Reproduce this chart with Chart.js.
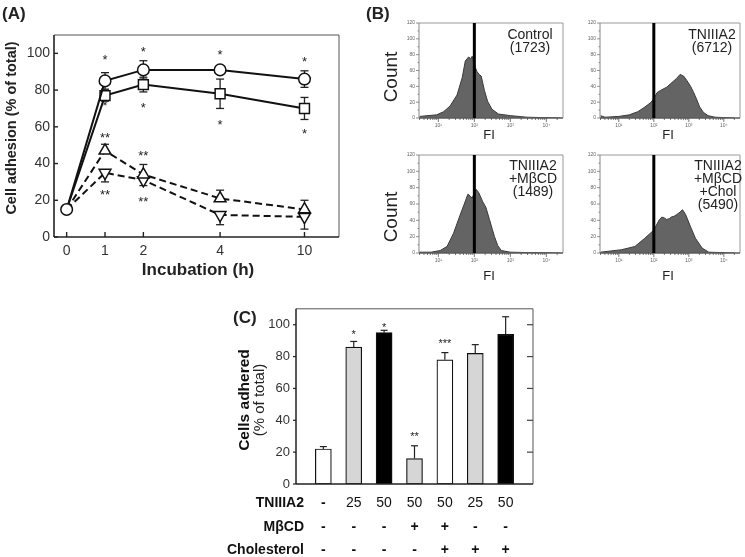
<!DOCTYPE html>
<html>
<head>
<meta charset="utf-8">
<script src="https://cdn.jsdelivr.net/npm/chart.js@4.4.1/dist/chart.umd.min.js"></script>
<style>
  body { margin: 0; background: #fff; width: 745px; height: 557px; position: relative; overflow: hidden; }
  canvas { position: absolute; }
</style>
</head>
<body>
<canvas id="chartA" width="350" height="290" style="left:0;top:0"></canvas>
<canvas id="histB1" width="210" height="145" style="left:360px;top:0"></canvas>
<canvas id="histB2" width="165" height="145" style="left:580px;top:0"></canvas>
<canvas id="histB3" width="210" height="140" style="left:360px;top:145px"></canvas>
<canvas id="histB4" width="165" height="140" style="left:580px;top:145px"></canvas>
<canvas id="chartC" width="355" height="262" style="left:190px;top:295px"></canvas>
<script>
// ---- panel A: adhesion over time ----
const hoursLabels = ['0', '1', '2', '4', '10'];
const hoursPos = [0, 1, 2, 4, 6.2];   // 10 h sits closer than a linear axis would put it
const adhCircle = [15, 85, 91, 91, 86];
const adhCircleErr = [0, 4.5, 5, 1, 4.5];
const adhSquare = [15, 77, 83, 78, 70];
const adhSquareErr = [0, 3, 4, 8, 6];
const adhUp = [15, 47, 34, 21, 15];
const adhUpErr = [0, 3.5, 5.5, 4.5, 5];
const adhDown = [15, 35, 31, 12, 11];
const adhDownErr = [0, 5, 3, 5.3, 6.7];
const starsAIdx = [1, 1, 1, 1, 2, 2, 2, 2, 3, 3, 4, 4];
const starsAY = [97, 72, 55, 24, 101.5, 71, 45, 20, 100, 62, 96, 57];
const starsAText = ['*', '*', '**', '**', '*', '*', '**', '**', '*', '*', '*', '*'];

// ---- panel B: flow cytometry histograms (FI on log axis, count) ----
const fiControl = [3, 9, 14, 21, 33, 46, 56, 69, 80, 87, 100, 117, 135, 155, 190, 234, 309, 468, 1000, 2880, 25000];
const cntControl = [2, 4, 8, 15, 29, 51, 72, 77, 75, 78, 67, 59, 55, 53, 35, 21, 11, 5, 3, 1, 0];
const fiTN = [3, 4, 10, 20, 35, 52, 79, 100, 123, 158, 234, 355, 447, 562, 708, 891, 1122, 1349, 1660, 2042, 2630, 3548, 5623, 20000];
const cntTN = [3, 1, 2, 4, 8, 13, 19, 24, 32, 35, 39, 46, 50, 55, 53, 47, 40, 33, 24, 14, 7, 3, 1, 0];
const fiMbcd = [3, 6.3, 11.2, 17.4, 26.3, 39.8, 52.5, 66.1, 75.9, 87.1, 100, 112, 132, 170, 209, 263, 316, 363, 447, 562, 1000, 3162, 25000];
const cntMbcd = [1, 1, 3, 8, 24, 46, 60, 72, 70, 67, 74, 78, 74, 63, 56, 41, 29, 20, 9, 3, 1, 0.5, 0];
const fiChol = [3, 12, 28.8, 55, 100, 144.5, 170, 199.5, 234, 275, 316, 380, 447, 525, 661, 813, 1122, 1549, 2399, 3715, 20000];
const cntChol = [1, 4, 8, 18, 28, 41, 44, 43, 41, 42, 44, 45, 47, 49, 53, 47, 32, 18, 6, 1, 0];
const markerFI = 100;
const countTicks = [0, 20, 40, 60, 80, 100, 120];

// ---- panel C: bars + condition table ----
const adhered = [22, 86, 95, 16, 78, 82, 94];
const adheredErr = [1.5, 3.5, 1.5, 8, 4.5, 5.5, 11];
const starsCIdx = [1, 2, 3, 4];
const starsCY = [95, 99, 31, 89];
const starsCText = ['*', '*', '**', '***'];
const rowLabels = ['TNIIIA2', 'MβCD', 'Cholesterol'];
const rowTN = ['-', '25', '50', '50', '50', '25', '50'];
const rowMbcd = ['-', '-', '-', '+', '+', '-', '-'];
const rowChol = ['-', '-', '-', '-', '+', '+', '+'];
const barFill = ['#ffffff', '#d6d6d6', '#000000', '#d6d6d6', '#ffffff', '#d6d6d6', '#000000'];

const FONT = "'Liberation Sans', Arial, sans-serif";
Chart.defaults.font.family = FONT;
Chart.defaults.color = '#333';
Chart.defaults.animation = false;

// pin the plot area to exact pixels inside a canvas of size W x H
function area(W, H, l, t, r, b) {
  return {
    padding: { left: 0, top: t, right: W - r, bottom: 0 },
    fitY: s => { s.width = l; },
    fitX: s => { s.height = H - b; }
  };
}

function txt(ctx, s, x, y, font, align, color) {
  ctx.save();
  ctx.font = font;
  ctx.textAlign = align || 'center';
  ctx.textBaseline = 'middle';
  ctx.fillStyle = color || '#222';
  ctx.fillText(s, x, y);
  ctx.restore();
}

function vtxt(ctx, s, x, y, font, color) {
  ctx.save();
  ctx.translate(x, y);
  ctx.rotate(-Math.PI / 2);
  txt(ctx, s, 0, 0, font, 'center', color);
  ctx.restore();
}

function line(ctx, x1, y1, x2, y2, w, color) {
  ctx.save();
  ctx.beginPath();
  ctx.moveTo(x1, y1);
  ctx.lineTo(x2, y2);
  ctx.lineWidth = w;
  ctx.strokeStyle = color || '#222';
  ctx.stroke();
  ctx.restore();
}

function frame(ctx, a, sideColor, axisColor, axisW) {
  line(ctx, a.left, a.top, a.right, a.top, 1, sideColor);
  line(ctx, a.right, a.top, a.right, a.bottom, 1, sideColor);
  line(ctx, a.left, a.top, a.left, a.bottom, axisW, axisColor);
  line(ctx, a.left, a.bottom, a.right, a.bottom, axisW, axisColor);
}

// ================= panel A =================
const seriesA = [
  { vals: adhCircle, err: adhCircleErr, dir: 'both', style: 'circle', r: 5.8, rot: 0, dash: [] },
  { vals: adhSquare, err: adhSquareErr, dir: 'both', style: 'rect', r: 7, rot: 0, dash: [] },
  { vals: adhUp, err: adhUpErr, dir: 'up', style: 'triangle', r: 6.8, rot: 0, dash: [7, 4] },
  { vals: adhDown, err: adhDownErr, dir: 'down', style: 'triangle', r: 6.8, rot: 180, dash: [7, 4] }
];
const la = area(350, 290, 54, 35, 339, 237);

new Chart(document.getElementById('chartA'), {
  type: 'line',
  data: {
    datasets: seriesA.map(s => ({
      data: hoursPos.map((x, i) => ({ x: x, y: s.vals[i] })),
      borderColor: '#111',
      borderWidth: 2,
      borderDash: s.dash,
      pointStyle: s.style,
      pointRotation: s.rot,
      pointRadius: hoursPos.map((x, i) => (i === 0 && s.style !== 'circle') ? 0 : s.r),
      pointBackgroundColor: '#fff',
      pointBorderColor: '#111',
      pointBorderWidth: 1.5,
      tension: 0,
      fill: false
    }))
  },
  options: {
    responsive: false,
    layout: { padding: la.padding },
    plugins: { legend: { display: false }, tooltip: { enabled: false } },
    scales: {
      x: {
        type: 'linear', min: -0.33, max: 7.1,
        afterBuildTicks: s => { s.ticks = hoursPos.map(v => ({ value: v })); },
        afterFit: la.fitX,
        grid: { display: false, drawTicks: false },
        border: { display: false },
        ticks: { callback: (v, i) => hoursLabels[i], font: { size: 14 }, padding: 6, maxRotation: 0, autoSkip: false }
      },
      y: {
        min: 0, max: 110,
        afterFit: la.fitY,
        grid: { display: false, drawTicks: false },
        border: { display: false },
        ticks: { stepSize: 20, includeBounds: false, font: { size: 14 }, padding: 4 }
      }
    }
  },
  plugins: [{
    id: 'panelA',
    beforeDatasetsDraw(chart) {
      const { ctx, scales: { x, y } } = chart;
      seriesA.forEach(s => s.vals.forEach((v, i) => {
        const e = s.err[i];
        if (!e) return;
        const px = x.getPixelForValue(hoursPos[i]);
        const top = y.getPixelForValue(v + (s.dir !== 'down' ? e : 0));
        const bot = y.getPixelForValue(v - (s.dir !== 'up' ? e : 0));
        line(ctx, px, top, px, bot, 1.3, '#222');
        if (s.dir !== 'down') line(ctx, px - 4, top, px + 4, top, 1.3, '#222');
        if (s.dir !== 'up') line(ctx, px - 4, bot, px + 4, bot, 1.3, '#222');
      }));
    },
    afterDraw(chart) {
      const { ctx, chartArea: a, scales: { x, y } } = chart;
      frame(ctx, a, '#555', '#222', 1.6);
      hoursPos.forEach(v => {
        const px = x.getPixelForValue(v);
        line(ctx, px, a.bottom, px, a.bottom - 5, 1.4, '#222');
      });
      for (let v = 0; v <= 100; v += 20) {
        const py = y.getPixelForValue(v);
        line(ctx, a.left, py, a.left + 4, py, 1.4, '#222');
      }
      starsAIdx.forEach((idx, k) => {
        txt(ctx, starsAText[k], x.getPixelForValue(hoursPos[idx]), y.getPixelForValue(starsAY[k]) + 2, '13px ' + FONT);
      });
      txt(ctx, '(A)', 2, 14, 'bold 17px ' + FONT, 'left');
      vtxt(ctx, 'Cell adhesion (% of total)', 12, 128, 'bold 14.5px ' + FONT);
      txt(ctx, 'Incubation (h)', 198, 270, 'bold 17px ' + FONT);
    }
  }]
});

// ================= panel B =================
const panelsB = [
  { id: 'histB1', fi: fiControl, cnt: cntControl, text: ['Control', '(1723)'], W: 210, H: 145, l: 59, t: 23, r: 203, b: 118, tx: -33, ty: 12, count: [32, 77], fiY: 135, label: '(B)' },
  { id: 'histB2', fi: fiTN, cnt: cntTN, text: ['TNIIIA2', '(6712)'], W: 165, H: 145, l: 20, t: 23, r: 160, b: 118, tx: -28, ty: 12, fiY: 135 },
  { id: 'histB3', fi: fiMbcd, cnt: cntMbcd, text: ['TNIIIA2', '+MβCD', '(1489)'], W: 210, H: 140, l: 59, t: 10, r: 203, b: 108, tx: -30, ty: 11, count: [32, 72], fiY: 131 },
  { id: 'histB4', fi: fiChol, cnt: cntChol, text: ['TNIIIA2', '+MβCD', '+Chol', '(5490)'], W: 165, H: 140, l: 20, t: 10, r: 160, b: 108, tx: -22, ty: 11, fiY: 131 }
];

function logTicks(min, max) {
  const out = [];
  for (let e = 0; e <= 4; e++) {
    for (let m = 1; m <= 9; m++) {
      const v = m * Math.pow(10, e);
      if (v >= min && v <= max) out.push({ value: v, major: m === 1 });
    }
  }
  return out;
}
const supers = ['⁰', '¹', '²', '³', '⁴'];

panelsB.forEach(p => {
  const lb = area(p.W, p.H, p.l, p.t, p.r, p.b);
  new Chart(document.getElementById(p.id), {
    type: 'line',
    data: {
      datasets: [{
        data: p.fi.map((v, i) => ({ x: v, y: p.cnt[i] })),
        borderColor: '#3a3a3a',
        borderWidth: 1,
        backgroundColor: '#646464',
        fill: 'origin',
        pointRadius: 0,
        tension: 0
      }]
    },
    options: {
      responsive: false,
      layout: { padding: lb.padding },
      plugins: { legend: { display: false }, tooltip: { enabled: false } },
      scales: {
        x: {
          type: 'logarithmic', min: 2.9, max: 29000,
          afterBuildTicks: s => { s.ticks = logTicks(2.9, 29000); },
          afterFit: lb.fitX,
          grid: { display: false, drawTicks: false },
          border: { display: false },
          ticks: {
            autoSkip: false, maxRotation: 0, padding: 5, color: '#666',
            font: { size: 5 },
            callback: v => {
              const e = Math.log10(v);
              return Math.abs(e - Math.round(e)) < 1e-9 ? '10' + supers[Math.round(e)] : '';
            }
          }
        },
        y: {
          min: 0, max: 120,
          afterBuildTicks: s => { s.ticks = countTicks.map(v => ({ value: v })); },
          afterFit: lb.fitY,
          grid: { display: false, drawTicks: false },
          border: { display: false },
          ticks: { font: { size: 5 }, color: '#666', padding: 4 }
        }
      }
    },
    plugins: [{
      id: 'histExtras',
      afterDraw(chart) {
        const { ctx, chartArea: a, scales: { x, y } } = chart;
        frame(ctx, a, '#999', '#888', 1);
        line(ctx, a.left, a.bottom, a.right, a.bottom, 1.2, '#444');
        x.ticks.forEach(t => {
          const px = x.getPixelForValue(t.value);
          line(ctx, px, a.bottom, px, a.bottom + (t.major ? 4 : 2), 0.8, '#555');
        });
        for (let v = 0; v <= 120; v += 10) {
          const py = y.getPixelForValue(v);
          line(ctx, a.left, py, a.left - (v % 20 === 0 ? 3 : 1.5), py, 0.8, '#777');
        }
        const mx = x.getPixelForValue(markerFI);
        line(ctx, mx, a.top, mx, a.bottom, 3, '#000');
        p.text.forEach((s, k) => txt(ctx, s, a.right + p.tx, a.top + p.ty + k * 13, '14px ' + FONT, 'center', '#222'));
        txt(ctx, 'FI', (a.left + a.right) / 2 - 2, p.fiY, '13px ' + FONT, 'center', '#222');
        if (p.count) vtxt(ctx, 'Count', p.count[0], p.count[1], '19px ' + FONT, '#222');
        if (p.label) txt(ctx, p.label, 6, 14, 'bold 17px ' + FONT, 'left');
      }
    }]
  });
});

// ================= panel C =================
const lc = area(355, 262, 106, 10, 343, 189);
const tableRows = [rowTN, rowMbcd, rowChol];
const tableY = [208, 232, 255];

new Chart(document.getElementById('chartC'), {
  type: 'bar',
  data: {
    datasets: [{
      data: adhered.map((v, i) => ({ x: i, y: v })),
      backgroundColor: barFill,
      borderColor: '#111',
      borderWidth: 1.2,
      borderSkipped: false,
      barThickness: 16
    }]
  },
  options: {
    responsive: false,
    layout: { padding: lc.padding },
    plugins: { legend: { display: false }, tooltip: { enabled: false } },
    scales: {
      x: {
        type: 'linear', min: -0.9, max: 6.9, offset: false,
        afterFit: lc.fitX,
        grid: { display: false, drawTicks: false },
        border: { display: false },
        ticks: { display: false }
      },
      y: {
        min: 0, max: 110,
        afterFit: lc.fitY,
        grid: { display: false, drawTicks: false },
        border: { display: false },
        ticks: { stepSize: 20, includeBounds: false, font: { size: 13 }, padding: 6 }
      }
    }
  },
  plugins: [{
    id: 'panelC',
    afterDraw(chart) {
      const { ctx, chartArea: a, scales: { x, y } } = chart;
      adhered.forEach((v, i) => {
        const px = x.getPixelForValue(i);
        const top = y.getPixelForValue(v + adheredErr[i]);
        line(ctx, px, y.getPixelForValue(v), px, top, 1.2, '#222');
        line(ctx, px - 3.5, top, px + 3.5, top, 1.2, '#222');
      });
      frame(ctx, a, '#555', '#222', 1.5);
      for (let v = 0; v <= 100; v += 20) {
        const py = y.getPixelForValue(v);
        line(ctx, a.left, py, a.left - 3, py, 1.2, '#222');
        if (v > 0) line(ctx, a.right, py, a.right - 6, py, 1.2, '#444');
      }
      starsCIdx.forEach((idx, k) => {
        txt(ctx, starsCText[k], x.getPixelForValue(idx), y.getPixelForValue(starsCY[k]) + 2, '11px ' + FONT);
      });
      txt(ctx, '(C)', 43, 23, 'bold 17px ' + FONT, 'left');
      vtxt(ctx, 'Cells adhered', 55, 105, 'bold 15.5px ' + FONT, '#111');
      vtxt(ctx, '(% of total)', 70, 105, '15px ' + FONT, '#222');
      rowLabels.forEach((s, r) => {
        txt(ctx, s, 114, tableY[r], 'bold 14px ' + FONT, 'right', '#111');
        tableRows[r].forEach((c, i) => {
          const bold = (c === '-' || c === '+');
          txt(ctx, c, x.getPixelForValue(i), tableY[r], (bold ? 'bold ' : '') + '14px ' + FONT, 'center', '#111');
        });
      });
    }
  }]
});
</script>
</body>
</html>
